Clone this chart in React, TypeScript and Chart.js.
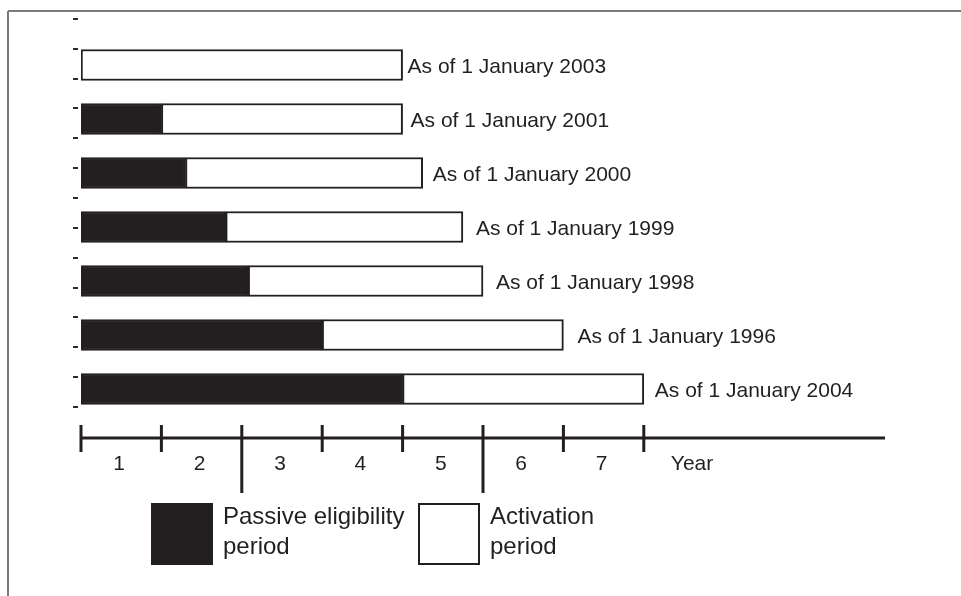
import React, { useEffect, useRef } from 'react';
import { Chart, registerables } from 'chart.js';

Chart.register(...registerables);

// ---- data ----
const categories = [
  'As of 1 January 2003',
  'As of 1 January 2001',
  'As of 1 January 2000',
  'As of 1 January 1999',
  'As of 1 January 1998',
  'As of 1 January 1996',
  'As of 1 January 2004',
];
const passiveYears = [0, 1, 1.3, 1.8, 2.08, 3, 4];
const activationYears = [4, 3, 2.95, 2.95, 2.92, 3, 3];
const seriesLabels = ['Passive eligibility\nperiod', 'Activation\nperiod'];
const xTickValues = [0, 1, 2, 3, 4, 5, 6, 7];
const xLongTicks = [2, 5];
const xTickLabels = ['1', '2', '3', '4', '5', '6', '7'];
const xAxisTitle = 'Year';
const xMax = 10;
const sideMarks = [0, 1, 2, 3, 4, 5, 6, 7, 8, 9, 10, 11, 12, 13];

// ---- style ----
const INK = '#231f20';
const FONT = "'Liberation Sans', Arial, Helvetica, sans-serif";
const labelGaps = [5, 8, 10, 13, 13, 14, 11];

const decorPlugin = {
  id: 'decor',
  afterDraw(chart: any) {
    const ctx = chart.ctx as CanvasRenderingContext2D;
    const area = chart.chartArea;
    const xs = chart.scales.x;
    const ym = chart.scales.yMarks;
    ctx.save();

    // frame
    ctx.strokeStyle = '#7a7a7a';
    ctx.lineWidth = 2;
    ctx.beginPath();
    ctx.moveTo(8, 11);
    ctx.lineTo(chart.width, 11);
    ctx.moveTo(8, 11);
    ctx.lineTo(8, chart.height);
    ctx.stroke();

    // side marks
    ctx.strokeStyle = '#2a2a2a';
    ctx.lineWidth = 2;
    ctx.beginPath();
    sideMarks.forEach((v) => {
      const y = Math.round(ym.getPixelForValue(v));
      ctx.moveTo(area.left - 8, y);
      ctx.lineTo(area.left - 3, y);
    });
    ctx.stroke();

    // bar end labels
    ctx.fillStyle = INK;
    ctx.font = `21px ${FONT}`;
    ctx.textAlign = 'left';
    ctx.textBaseline = 'middle';
    const meta = chart.getDatasetMeta(1);
    meta.data.forEach((el: any, i: number) => {
      ctx.fillText(categories[i], el.x + labelGaps[i], el.y + 2);
    });

    // x axis
    const axisY = area.bottom + 22;
    ctx.strokeStyle = INK;
    ctx.lineWidth = 3;
    ctx.beginPath();
    ctx.moveTo(xs.getPixelForValue(0), axisY);
    ctx.lineTo(xs.getPixelForValue(xMax), axisY);
    xTickValues.forEach((v) => {
      const x = xs.getPixelForValue(v);
      ctx.moveTo(x, axisY - 13);
      ctx.lineTo(x, axisY + (xLongTicks.includes(v) ? 55 : 14));
    });
    ctx.stroke();

    ctx.font = `21px ${FONT}`;
    ctx.textAlign = 'center';
    ctx.textBaseline = 'middle';
    xTickLabels.forEach((t, i) => {
      ctx.fillText(t, xs.getPixelForValue(i + 0.5) - 2, axisY + 26);
    });
    ctx.textAlign = 'left';
    ctx.fillText(xAxisTitle, xs.getPixelForValue(7) + 27, axisY + 26);

    // legend
    const legendBoxes = [
      { x: 151, fill: INK },
      { x: 418, fill: '#ffffff' },
    ];
    const boxTop = area.bottom + 87;
    ctx.font = `24px ${FONT}`;
    ctx.textBaseline = 'alphabetic';
    legendBoxes.forEach((b, i) => {
      ctx.fillStyle = b.fill;
      ctx.fillRect(b.x, boxTop, 62, 62);
      ctx.strokeStyle = INK;
      ctx.lineWidth = 2;
      ctx.strokeRect(b.x + 1, boxTop + 1, 60, 60);
      ctx.fillStyle = INK;
      seriesLabels[i].split('\n').forEach((line, j) => {
        ctx.fillText(line, b.x + 72, boxTop + 21 + j * 30);
      });
    });

    ctx.restore();
  },
};

export default function App() {
  const ref = useRef<HTMLCanvasElement | null>(null);

  useEffect(() => {
    if (!ref.current) return;
    const chart = new Chart(ref.current, {
      type: 'bar',
      data: {
        labels: categories,
        datasets: [
          {
            label: seriesLabels[0],
            data: passiveYears,
            backgroundColor: INK,
            borderColor: INK,
            borderWidth: 2,
            borderSkipped: false,
            barThickness: 31,
          },
          {
            label: seriesLabels[1],
            data: activationYears,
            backgroundColor: '#ffffff',
            borderColor: INK,
            borderWidth: 2,
            borderSkipped: false,
            barThickness: 31,
          },
        ],
      },
      options: {
        indexAxis: 'y',
        responsive: false,
        animation: false,
        devicePixelRatio: 1,
        layout: { padding: { left: 81, right: 76, top: 38, bottom: 180 } },
        plugins: { legend: { display: false }, tooltip: { enabled: false } },
        scales: {
          x: { type: 'linear', stacked: true, min: 0, max: xMax, display: false },
          y: { type: 'category', stacked: true, display: false },
          yMarks: {
            type: 'linear',
            axis: 'y',
            position: 'left',
            offset: false,
            beginAtZero: false,
            grace: 0,
            min: -0.3,
            max: 12.36,
            display: false,
          },
        },
      },
      plugins: [decorPlugin],
    });
    return () => chart.destroy();
  }, []);

  return (
    <div style={{ position: 'absolute', left: 0, top: 0, width: 961, height: 596, background: '#fff' }}>
      <canvas ref={ref} width={961} height={596} style={{ display: 'block' }} />
    </div>
  );
}
